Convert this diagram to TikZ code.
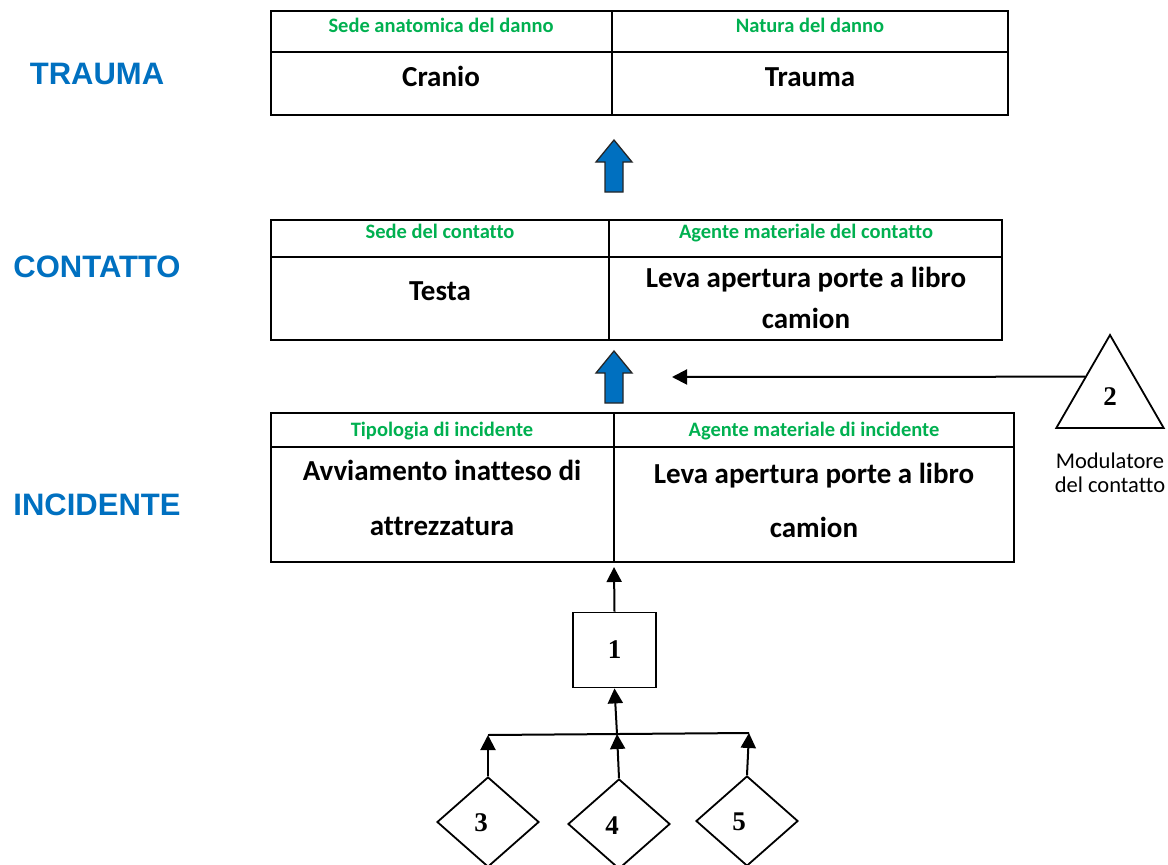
\documentclass[tikz,border=0pt]{standalone}
\usepackage{fontspec}
\setmainfont{Carlito}[Ligatures=NoCommon]
\newfontfamily\levelfont{Liberation Sans}
\newfontfamily\numfont{Liberation Serif}
\usetikzlibrary{positioning,shapes.geometric,arrows.meta,calc}

\definecolor{levelblue}{HTML}{0070C0}
\definecolor{headgreen}{HTML}{00B050}

\tikzset{
  tab/.style={line width=1.8pt},
  head/.style={font=\bfseries\fontsize{20.5}{24}\selectfont, text=headgreen, text height=14pt, text depth=4pt},
  body/.style={font=\bfseries\fontsize{29}{41}\selectfont, align=center},
  onebody/.style={font=\bfseries\fontsize{29}{41}\selectfont, text height=20pt, text depth=6pt},
  level/.style={font=\levelfont\bfseries\fontsize{31}{36}\selectfont, text=levelblue},
  num/.style={font=\numfont\bfseries\fontsize{27}{30}\selectfont},
  flow/.style={line width=2pt, -{Triangle[length=15pt,width=15pt]}},
  blockarrow/.style={fill=levelblue, draw=black!85, line width=1.3pt},
  diam/.style={diamond, draw, line width=1.8pt, minimum width=102, minimum height=90, inner sep=0pt},
}

\begin{document}
\begin{tikzpicture}[x=1pt,y=-1pt]
\useasboundingbox (0,0) rectangle (1168,865);

% the three tables: top/header line/bottom/divider/right edge
\foreach \top/\mid/\bot/\div/\right in {11/52/115/612/1008, 220/257/340/609/1002, 413/447/562/614/1014}
{
   \draw[tab] (271,\top) rectangle (\right,\bot);
   \draw[tab] (271,\mid) -- (\right,\mid);
   \draw[tab] (\div,\top) -- (\div,\bot);
}

% levels
\node[level] (trauma) at (97,74) {TRAUMA};
\node[level] (contatto) at (97,267) {CONTATTO};
\node[level] (incidente) at (97,505) {INCIDENTE};

% trauma
\node[head] (sedeanat) at (441,27) {Sede anatomica del danno};
\node[head] (natura) at (810,27) {Natura del danno};
\node[onebody] (cranio) at (441,79) {Cranio};
\node[onebody] (traumab) at (810,79) {Trauma};

% contatto
\node[head] (sedecont) at (440,233) {Sede del contatto};
\node[head] (agentecont) at (806,233) {Agente materiale del contatto};
\node[onebody] (testa) at (440,293) {Testa};
\node[body] (levacont) at (806,298) {Leva apertura porte a libro\\camion};

% incidente
\node[head] (tipologia) at (442,431) {Tipologia di incidente};
\node[head] (agenteinc) at (814,431) {Agente materiale di incidente};
\node[body, font=\bfseries\fontsize{29}{55}\selectfont] (avviamento) at (442,498) {Avviamento inatteso di\\attrezzatura};
\node[body, font=\bfseries\fontsize{29}{54}\selectfont] (levainc) at (814,500) {Leva apertura porte a libro\\camion};

% blue arrows between the tables
\foreach \tip in {140,351}
   \draw[blockarrow] (614,\tip) -- ++(18,22) -- ++(-9,0) -- ++(0,30) -- ++(-18,0) -- ++(0,-30) -- ++(-9,0) -- cycle;

% modulator
\node[regular polygon, regular polygon sides=3, draw, line width=1.8pt, minimum size=124, inner sep=0pt, num] (modul) at (1110,397) {2};
\node[font=\fontsize{22.5}{23.5}\selectfont, align=center] (modtxt) at (1110,473) {Modulatore\\del contatto};
\coordinate (modtip) at (672,377);
\draw[flow] (modul.141) -- (modtip);

% box 1 and the three diamonds
\node[draw, line width=1.8pt, minimum width=83, minimum height=75, num] (box1) at (614.5,650) {1};
\coordinate (incbot) at (614,567);
\draw[flow] (box1.north) -- (incbot);

\coordinate (bar3) at (488,735);
\coordinate (bar4) at (617,734);
\coordinate (bar5) at (749,733);
\draw[line width=2pt] (bar3) -- (bar5);
\draw[flow] (bar4) -- (box1.south);

\node[diam] (d3) at (488,822) {};
\node[diam] (d4) at (619,824) {};
\node[diam] (d5) at (747,821) {};
\node[num] (n3) at (481,823) {3};
\node[num] (n4) at (612,826) {4};
\node[num] (n5) at (739,822) {5};
\draw[flow] (d3.north) -- (bar3);
\draw[flow] (d4.north) -- (bar4);
\draw[flow] (d5.north) -- (bar5);
\end{tikzpicture}
\end{document}
